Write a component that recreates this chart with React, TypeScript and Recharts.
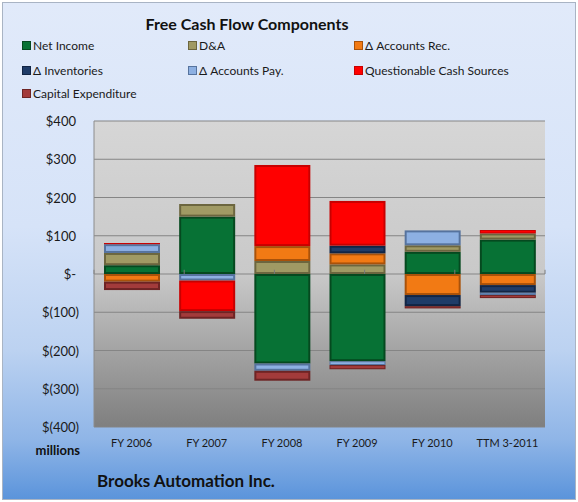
import { BarChart, Bar, XAxis, YAxis, CartesianGrid, ReferenceLine } from 'recharts';

const categories = ['FY 2006', 'FY 2007', 'FY 2008', 'FY 2009', 'FY 2010', 'TTM 3-2011'];
const netIncome = [23, 150, -234, -228, 58, 90];
const depreciation = [32, 33, 34, 25, 17, 16];
const accountsRec = [-20, 0, 39, 29, -55, -29];
const inventories = [0, 0, 0, 20, -29, -20];
const accountsPay = [23, -17, -19, -10, 39, -6];
const questionable = [3, -80, 212, 117, 0, 9];
const capex = [-22, -20, -26, -11, -6, -8];
const yTicks = [-400, -300, -200, -100, 0, 100, 200, 300, 400];
const boundaries = [0, 1, 2, 3, 4, 5, 6];

const series = [
  { key: 'ni', name: 'Net Income', values: netIncome, color: '#077235', edge: '#05491f' },
  { key: 'da', name: 'D&A', values: depreciation, color: '#a09a64', edge: '#6c663f' },
  { key: 'ar', name: 'Δ Accounts Rec.', values: accountsRec, color: '#f27a14', edge: '#a9520a' },
  { key: 'inv', name: 'Δ Inventories', values: inventories, color: '#1f3c68', edge: '#122544' },
  { key: 'ap', name: 'Δ Accounts Pay.', values: accountsPay, color: '#8db0e2', edge: '#56739e' },
  { key: 'q', name: 'Questionable Cash Sources', values: questionable, color: '#ff0000', edge: '#c80000' },
  { key: 'cx', name: 'Capital Expenditure', values: capex, color: '#a33b3b', edge: '#6e2424' },
];

const data = categories.map((name, i) => {
  const row: Record<string, string | number> = { name };
  series.forEach((s) => { row[s.key] = s.values[i]; });
  return row;
});

const font = 'Lato, "Open Sans", sans-serif';

const fmt = (v: number) => (v === 0 ? '$-' : v > 0 ? `$${v}` : `$(${-v})`);

function YTick(props: any) {
  const { x, y, payload } = props;
  const v = payload.value as number;
  return (
    <text x={x - 7 - (v < 0 ? 0 : 3)} y={y} dy={5} textAnchor="end" fontSize={13} fill="#1a1a1a" fontFamily={font}>
      {fmt(v)}
    </text>
  );
}

function XTick(props: any) {
  const { x, y, payload } = props;
  return (
    <text x={x} y={y + 20} textAnchor="middle" fontSize={11} fill="#1a1a1a" fontFamily={font}>
      {payload.value}
    </text>
  );
}

// bevelled segment, like the Excel 3D bar style
function Bevel(edge: string) {
  return (props: any) => {
    const { x, y, width, height, fill } = props;
    if (!width || !height) return null;
    const top = Math.min(y, y + height);
    const h = Math.abs(height);
    const inset = h > 5 ? 2 : h > 2 ? 1 : 0;
    return (
      <g>
        <rect x={x} y={top} width={width} height={h} fill={edge} />
        {inset > 0 && (
          <rect x={x + inset} y={top + inset} width={width - inset * 2} height={h - inset * 2} fill={fill} />
        )}
      </g>
    );
  };
}

const legendCols = [22, 188, 354];
const legendRows = [45, 70, 93];

export default function App() {
  return (
    <div style={{ position: 'absolute', left: 0, top: 0, width: 578, height: 502, fontFamily: font }}>
      <div
        style={{
          position: 'absolute', left: 2, top: 2, width: 572, height: 496,
          border: '1px solid #a9b4c4',
          background: 'linear-gradient(to bottom, #e1eafa 0%, #d6e3f8 45%, #bcd2f1 70%, #8fb5e7 88%, #5b94db 100%)',
        }}
      />
      <div style={{ position: 'absolute', left: 247, top: 14, transform: 'translateX(-50%)', fontWeight: 700, fontSize: 16, color: '#111', whiteSpace: 'nowrap' }}>
        Free Cash Flow Components
      </div>
      {series.map((s, i) => (
        <div
          key={s.key}
          style={{
            position: 'absolute', left: legendCols[i % 3], top: legendRows[Math.floor(i / 3)] - 8,
            height: 16, display: 'flex', alignItems: 'center', fontSize: 12, color: '#1a1a1a', whiteSpace: 'nowrap',
          }}
        >
          <span style={{ display: 'inline-block', width: 7, height: 7, background: s.color, border: `1px solid ${s.edge}`, marginRight: 2 }} />
          {s.name}
        </div>
      ))}
      <div style={{ position: 'absolute', right: 578 - 80, top: 442, fontWeight: 700, fontSize: 13, color: '#111' }}>millions</div>
      <div style={{ position: 'absolute', left: 97, top: 470, fontWeight: 700, fontSize: 17, color: '#111', whiteSpace: 'nowrap' }}>
        Brooks Automation Inc.
      </div>
      <div style={{ position: 'absolute', left: 0, top: 0 }}>
        <BarChart
          width={578}
          height={502}
          data={data}
          stackOffset="sign"
          margin={{ top: 121, right: 33, bottom: 51, left: 0 }}
          barSize={56}
        >
          <defs>
            <linearGradient id="plotGrad" x1="0" y1="0" x2="0" y2="1">
              <stop offset="0%" stopColor="#d6d6d6" />
              <stop offset="50%" stopColor="#c9c9c9" />
              <stop offset="72%" stopColor="#a8a8a8" />
              <stop offset="100%" stopColor="#7f7f7f" />
            </linearGradient>
          </defs>
          <CartesianGrid vertical={false} stroke="#858585" fill="url(#plotGrad)" fillOpacity={1} />
          <XAxis dataKey="name" axisLine={false} tickLine={false} tickSize={0} tickMargin={0} height={24} tick={<XTick />} interval={0} />
          <XAxis xAxisId="edge" type="number" domain={[0, 6]} hide />
          <YAxis
            domain={[-400, 400]}
            ticks={yTicks}
            width={94}
            tickLine={false}
            axisLine={{ stroke: '#8c8c8c' }}
            tick={<YTick />}
            interval={0}
          />
          {series.map((s) => (
            <Bar
              key={s.key}
              dataKey={s.key}
              name={s.name}
              stackId="a"
              fill={s.color}
              shape={Bevel(s.edge)}
              isAnimationActive={false}
            />
          ))}
          {boundaries.map((b) => (
            <ReferenceLine
              key={b}
              xAxisId="edge"
              segment={[{ x: b, y: 0 }, { x: b, y: 11 }]}
              stroke="#7a7a7a"
            />
          ))}
        </BarChart>
      </div>
    </div>
  );
}
